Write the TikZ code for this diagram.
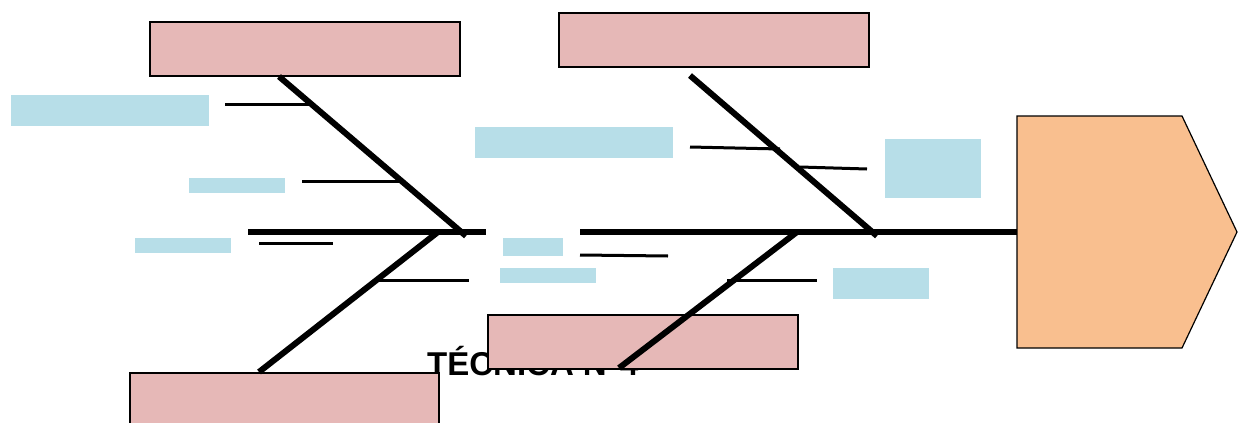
\documentclass[tikz,border=0pt]{standalone}
\usepackage{fontspec}
\setmainfont{Liberation Sans}
\usetikzlibrary{calc}
\definecolor{cpink}{HTML}{E6B8B7}
\definecolor{cblue}{HTML}{B7DEE8}
\definecolor{corange}{HTML}{F9BF8F}
\begin{document}
\begin{tikzpicture}[x=1pt,y=-1pt,
  pinkbox/.style={draw=black,line width=1.5pt,fill=cpink,anchor=north west,inner sep=0pt},
  bluebox/.style={fill=cblue,anchor=north west,inner sep=0pt},
  bone/.style={line width=6pt},
  twig/.style={line width=3pt}]
\clip (0,0) rectangle (1245,423);
% title behind
\node[anchor=base west,inner sep=0pt,font=\bfseries\fontsize{33}{33}\selectfont] (title) at (427,375) {TÉCNICA N°4};
% pink boxes
\node[pinkbox,minimum width=310,minimum height=54] (c1) at (149,21) {};
\node[pinkbox,minimum width=310,minimum height=54] (c2) at (558,12) {};
\node[pinkbox,minimum width=310,minimum height=54] (c3) at (487,314) {};
\node[pinkbox,minimum width=309,minimum height=60] (c4) at (129,372) {};
% head
\draw[line width=1.2pt,fill=corange] (1017,116) -- (1182,116) -- (1237,232) -- (1182,348) -- (1017,348) -- cycle;
\coordinate (head) at (1017,232);
% blue boxes
\node[bluebox,minimum width=198,minimum height=31] (b1) at (11,95) {};
\node[bluebox,minimum width=96,minimum height=15] (b2) at (189,178) {};
\node[bluebox,minimum width=96,minimum height=15] (b3) at (135,238) {};
\node[bluebox,minimum width=198,minimum height=31] (b4) at (475,127) {};
\node[bluebox,minimum width=60,minimum height=18] (b5) at (503,238) {};
\node[bluebox,minimum width=96,minimum height=15] (b6) at (500,268) {};
\node[bluebox,minimum width=96,minimum height=59] (b7) at (885,139) {};
\node[bluebox,minimum width=96,minimum height=31] (b8) at (833,268) {};
% spine
\coordinate (s1a) at (248,232); \coordinate (s1b) at (486,232);
\coordinate (s2a) at (580,232);
\draw[bone] (s1a) -- (s1b);
\draw[bone] (s2a) -- (head);
% main bones
\coordinate (j1) at (466,236); \coordinate (j2) at (877,236);
\coordinate (j3) at (438,232); \coordinate (j4) at (797,232);
\coordinate (t1) at ($(c1.south west)+(130,0)$);
\coordinate (t2) at ($(c2.south west)+(132,8)$);
\coordinate (t3) at ($(c4.north west)+(130,0)$);
\coordinate (t4) at (619,368);
\draw[bone] (t1) -- (j1);
\draw[bone] (t2) -- (j2);
\draw[bone] (j3) -- (t3);
\draw[bone] (j4) -- (t4);
% twigs
\coordinate (w1a) at (225,104); \coordinate (w1b) at (311,104);
\coordinate (w2a) at (302,181); \coordinate (w2b) at (402,181);
\coordinate (w3a) at (259,243); \coordinate (w3b) at (333,243);
\coordinate (w4a) at (379,280); \coordinate (w4b) at (469,280);
\coordinate (w5a) at (690,147); \coordinate (w5b) at (780,149);
\coordinate (w6a) at (800,167); \coordinate (w6b) at (867,169);
\coordinate (w7a) at (580,255); \coordinate (w7b) at (668,256);
\coordinate (w8a) at (727,280); \coordinate (w8b) at (817,280);
\foreach \i in {1,...,8} {\draw[twig] (w\i a) -- (w\i b);}
\end{tikzpicture}
\end{document}
